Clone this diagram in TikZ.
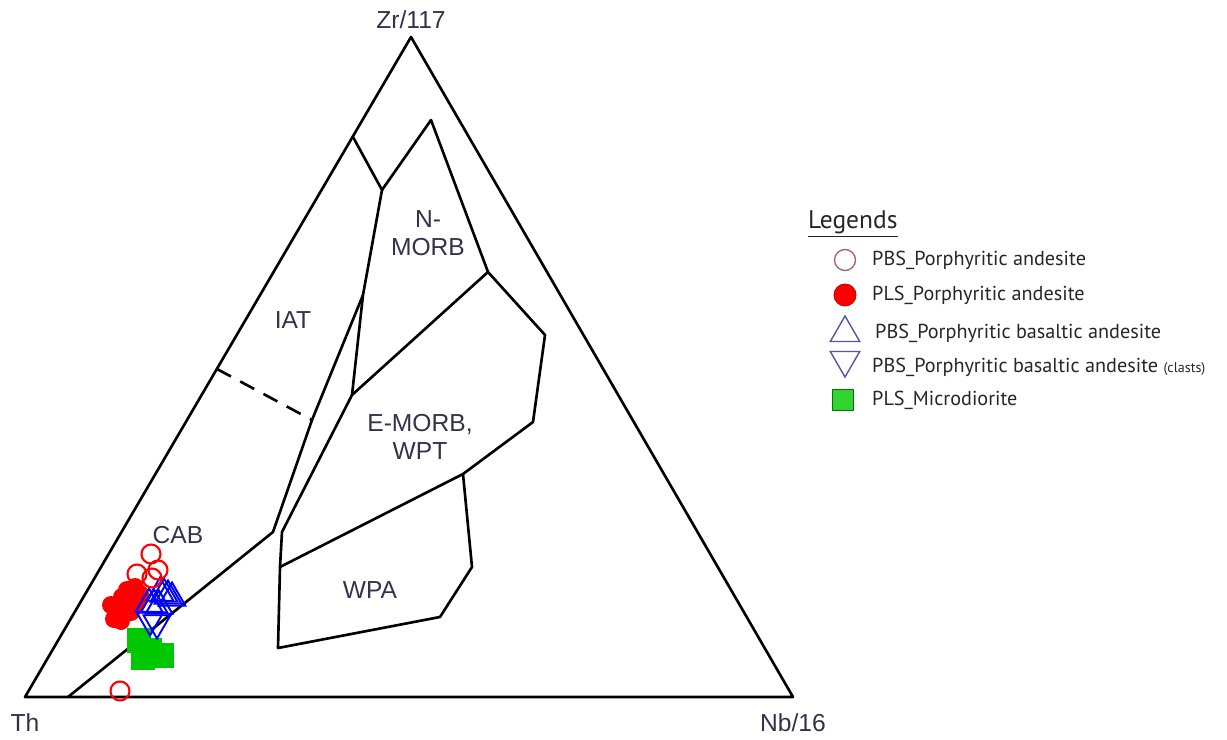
\documentclass[tikz,border=0pt]{standalone}
\usepackage{fontspec}
\setmainfont{Liberation Sans}
\newfontfamily\legfont{PT Sans}
\usetikzlibrary{shapes.geometric}
\definecolor{txtgray}{RGB}{50,50,75}
\definecolor{ptred}{RGB}{255,0,0}
\definecolor{ptblue}{RGB}{0,0,255}
\definecolor{ptgreen}{RGB}{0,200,0}
\definecolor{legbrown}{RGB}{165,105,105}
\definecolor{legblue}{RGB}{85,85,165}
\tikzset{%
  field/.style = {line width=1.5pt,line join=round},
  lbl/.style = {text=txtgray,font=\fontsize{14}{16}\selectfont,align=center},
  po/.style = {circle,draw=ptred,line width=1.2pt,minimum size=0.38cm,inner sep=0pt},
  pf/.style = {circle,fill=ptred,minimum size=0.36cm,inner sep=0pt},
  tu/.style = {regular polygon,regular polygon sides=3,draw=ptblue,line width=1.1pt,
        minimum size=0.62cm,inner sep=0pt},
  td/.style = {tu,shape border rotate=180},
  sq/.style = {rectangle,fill=ptgreen,minimum size=0.5cm,inner sep=0pt},
  legtxt/.style = {anchor=west,font=\legfont\fontsize{11.5}{13}\selectfont,text=black!85}
}
\begin{document}
\begin{tikzpicture}[x=0.02cm,y=-0.02cm]
  \useasboundingbox (0,0) rectangle (1227,740);
  % corners and field boundaries
  \coordinate (th) at (25,697);
  \coordinate (nb) at (793,697);
  \coordinate (zr) at (411,37);
  \coordinate (a1) at (353,137);
  \coordinate (a2) at (382,190);
  \coordinate (n1) at (431,120);
  \coordinate (n2) at (488,272);
  \coordinate (e1) at (545,335);
  \coordinate (e2) at (533,422);
  \coordinate (e3) at (463,474);
  \coordinate (w1) at (472,567);
  \coordinate (w2) at (440,617);
  \coordinate (w3) at (278,648);
  \coordinate (b1) at (280,567);
  \coordinate (b2) at (282,532);
  \coordinate (m1) at (352,395);
  \coordinate (s) at (363,295);
  \coordinate (d1) at (217,369);
  \coordinate (d2) at (312,420);
  \coordinate (c1) at (273,532);
  \coordinate (c0) at (68,697);

  \draw[field] (th) -- (nb) -- (zr) -- cycle;
  \draw[field] (a1) -- (a2) -- (n1) -- (n2) -- (e1) -- (e2) -- (e3) -- (b1);
  \draw[field] (e3) -- (w1) -- (w2) -- (w3) -- (b1) -- (b2) -- (m1) -- (n2);
  \draw[field] (a2) -- (s) -- (m1);
  \draw[field] (s) -- (d2) -- (c1) -- (c0);
  \draw[field,dash pattern=on 9pt off 6pt] (d1) -- (d2);

  \node[lbl] (zrlbl) at (411,20) {Zr/117};
  \node[lbl] (thlbl) at (25,723) {Th};
  \node[lbl] (nblbl) at (793,723) {Nb/16};
  \node[lbl] (iat) at (293,320) {IAT};
  \node[lbl] (nmorb) at (428,233) {N-\\MORB};
  \node[lbl] (emorb) at (420,437) {E-MORB,\\WPT};
  \node[lbl] (cab) at (178,535) {CAB};
  \node[lbl] (wpa) at (370,590) {WPA};

  % samples
  \foreach \x/\y [count=\i] in {139/640,150/650,162/655,143/657}
    \node[sq] (g\i) at (\x,\y) {};
  \foreach \x/\y [count=\i] in {127/590,135/587,140/594,131/600,122/597,
        137/603,126/608,118/612,114/619,121/621,131/612,111/605}
    \node[pf] (f\i) at (\x,\y) {};
  \foreach \x/\y [count=\i] in {160/593,164/594,168/596,172/598,
        149/604,154/605,159/606}
    \node[tu] (u\i) at (\x,\y) {};
  \foreach \x/\y [count=\i] in {150/620,157/623}
    \node[td] (d\i) at (\x,\y) {};
  \foreach \x/\y [count=\i] in {151/554,158/570,137/574,152/578,120/691}
    \node[po] (o\i) at (\x,\y) {};

  % legend
  \node[font=\legfont\fontsize{14.5}{16}\selectfont,text=black!85,anchor=west] (leg) at (802,224) {\underline{Legends}};
  \node[circle,draw=legbrown,line width=0.8pt,minimum size=0.42cm,inner sep=0pt] (l1) at (845,260) {};
  \node[circle,fill=ptred,draw=ptred!80!black,line width=0.5pt,minimum size=0.44cm,inner sep=0pt] (l2) at (845,295) {};
  \node[regular polygon,regular polygon sides=3,draw=legblue,line width=0.8pt,minimum size=0.68cm,inner sep=0pt] (l3) at (845,333) {};
  \node[regular polygon,regular polygon sides=3,shape border rotate=180,draw=legblue,line width=0.8pt,minimum size=0.68cm,inner sep=0pt] (l4) at (845,360) {};
  \node[rectangle,fill=ptgreen!80!white,draw=ptgreen!60!black,line width=0.4pt,minimum size=0.42cm,inner sep=0pt] (l5) at (843,400) {};
  \node[legtxt] (t1) at (866,260) {PBS\_Porphyritic andesite};
  \node[legtxt] (t2) at (866,295) {PLS\_Porphyritic andesite};
  \node[legtxt] (t3) at (869,333) {PBS\_Porphyritic basaltic andesite};
  \node[legtxt] (t4) at (866,367) {PBS\_Porphyritic basaltic andesite {\fontsize{8}{10}\selectfont(clasts)}};
  \node[legtxt] (t5) at (866,400) {PLS\_Microdiorite};
\end{tikzpicture}
\end{document}
